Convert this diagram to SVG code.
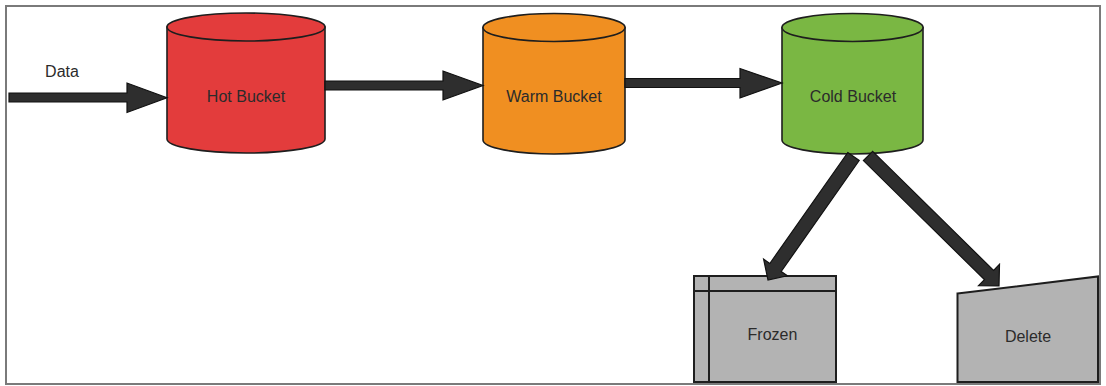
<svg xmlns="http://www.w3.org/2000/svg" width="1106" height="386" viewBox="0 0 1106 386">
<style>
.lbl{font-family:"Liberation Sans",Arial,sans-serif;font-size:16px;fill:#2b2b2b;text-anchor:middle}
.cyl{stroke:#1e1e1e;stroke-width:1.6}
.box{fill:#b3b3b3;stroke:#1e1e1e;stroke-width:2}
.arr{fill:#2e2e2e;stroke:#111;stroke-width:1.2;stroke-linejoin:miter}
</style>
<rect x="0" y="0" width="1106" height="386" fill="#ffffff"/>
<rect x="6" y="6" width="1094" height="378" fill="none" stroke="#7a7a7a" stroke-width="2"/>
<g id="hot-bucket">
<path class="cyl" fill="#e33c3c" d="M167,27 L167,139 A79,14 0 0 0 325,139 L325,27 Z"/>
<ellipse class="cyl" fill="#e33c3c" cx="246" cy="27" rx="79" ry="14"/>
<text class="lbl" x="246" y="101.5">Hot Bucket</text>
</g>
<g id="warm-bucket">
<path class="cyl" fill="#f08f21" d="M483,27.5 L483,140 A71,14 0 0 0 625,140 L625,27.5 Z"/>
<ellipse class="cyl" fill="#f08f21" cx="554" cy="27.5" rx="71" ry="14"/>
<text class="lbl" x="554" y="101.5">Warm Bucket</text>
</g>
<g id="cold-bucket">
<path class="cyl" fill="#7ab743" d="M782,27.5 L782,140 A70.5,14 0 0 0 923,140 L923,27.5 Z"/>
<ellipse class="cyl" fill="#7ab743" cx="852.5" cy="27.5" rx="70.5" ry="14"/>
<text class="lbl" x="853" y="101.5">Cold Bucket</text>
</g>
<g id="frozen">
<rect class="box" x="694" y="276" width="142" height="106"/>
<line x1="709" y1="276" x2="709" y2="382" stroke="#1e1e1e" stroke-width="2"/>
<line x1="694" y1="291" x2="836" y2="291" stroke="#1e1e1e" stroke-width="2"/>
<text class="lbl" x="772.5" y="340">Frozen</text>
</g>
<g id="delete">
<polygon class="box" points="957.5,293.5 1098,276.5 1098,382 957.5,382"/>
<text class="lbl" x="1028" y="342">Delete</text>
</g>
<g id="data-label">
<text class="lbl" x="62" y="77">Data</text>
</g>
<g id="connectors">
<polygon class="arr" points="9,93 127,93 127,83 167,97.7 127,112.5 127,102 9,102"/>
<polygon class="arr" points="325,81 443,81 443,71 483,85.5 443,100 443,90 325,90"/>
<polygon class="arr" points="625,78.5 740,78.5 740,68.5 782,83 740,98 740,87.5 625,87.5"/>
<polygon class="arr" points="847.8,152.5 859.2,160.5 781.2,271.5 787.4,275.8 768,280 763.6,259.2 769.8,263.5"/>
<polygon class="arr" points="872.6,151.4 863.4,160.6 984.4,279.6 978.5,285.7 999,286 999.5,264.3 993.6,270.4"/>
</g>
</svg>
